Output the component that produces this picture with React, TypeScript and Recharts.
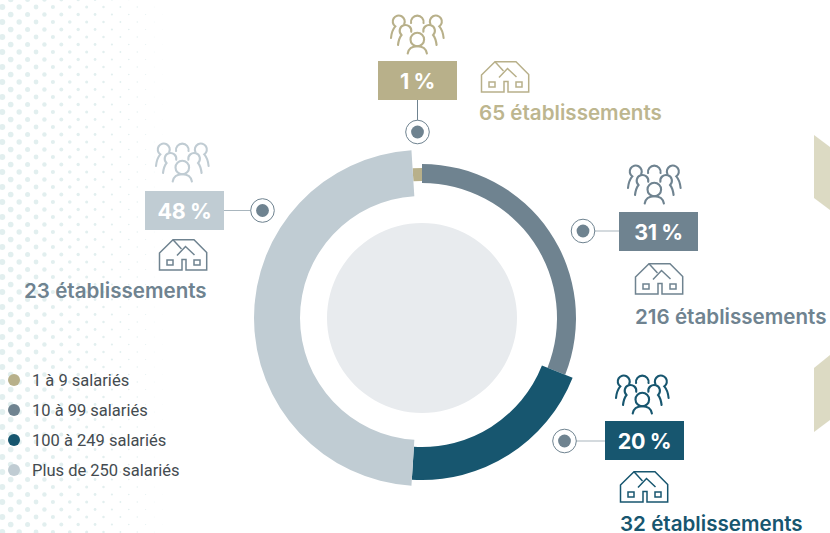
import { PieChart, Pie, Cell, Legend } from "recharts";

const CATEGORIES = ["1 à 9 salariés", "10 à 99 salariés", "100 à 249 salariés", "Plus de 250 salariés"];
const SHARES = [1, 31, 20, 48];
const ESTABLISHMENTS = [65, 216, 32, 23];
const COLORS = ["#b8b08a", "#6f8390", "#17566f", "#c0ccd3"];
const TEXT_COLORS = ["#bdb68f", "#6f8390", "#17566f", "#6f8390"];
const PEOPLE_COLORS = ["#b8b08a", "#6f8390", "#17566f", "#c0ccd3"];
const HOUSE_COLORS = ["#b8b08a", "#6f8390", "#17566f", "#6f8390"];
const INNER_RADII = [137, 135, 129, 122];
const OUTER_RADII = [150, 154, 162, 168];

const CX = 422;
const CY = 318;
const START_ANGLE = 93.6;

// where each callout sits around the ring
const CALLOUTS = [
  { box: [378, 61], dot: [417.5, 132], people: [390, 15], house: [481, 61], text: [479, 120] },
  { box: [619, 212], dot: [583, 231], people: [627, 165], house: [635, 263], text: [635, 324] },
  { box: [605, 421], dot: [564.5, 441], people: [615, 375], house: [620, 471], text: [620, 531] },
  { box: [145, 191], dot: [262.5, 210.5], people: [155, 143], house: [159, 239], text: [24, 298] },
];

const BOX_W = 79;
const BOX_H = 39;
const LABEL_FONT = "Inter, 'Noto Sans', sans-serif";

function HalftoneDots() {
  const dots = [];
  for (let row = 0; row < 72; row++) {
    const y = -0.5 + row * 7.5;
    const offset = row % 2 === 0 ? 10.7 : 2.3;
    for (let x = offset; x < 175; x += 16.87) {
      const r = 3 - x * 0.017;
      if (r > 0.1) dots.push(<circle key={`${row}-${x}`} cx={x} cy={y} r={r} />);
    }
  }
  return <g fill="#e2efef">{dots}</g>;
}

function PeopleIcon({ x, y, color }: { x: number; y: number; color: string }) {
  return (
    <g transform={`translate(${x} ${y})`} fill="none" stroke={color} strokeWidth={2.1} strokeLinecap="round">
      <path d="M1 23C1.5 18 3 14 5.3 11.4A6 6 0 1 1 14.2 9" />
      <path d="M53.6 23C53.1 18 51.6 14 49.3 11.4A6 6 0 1 0 40.4 9" />
      <path d="M21.1 8A6.3 6.3 0 1 1 33.5 8" />
      <path d="M8 30C8.5 26 9.5 22.5 11.5 20A5.8 5.8 0 1 1 21.2 16.8" />
      <path d="M46.6 30C46.1 26 45.1 22.5 43.1 20A5.8 5.8 0 1 0 33.4 16.8" />
      <circle cx={27.3} cy={24.5} r={6.8} />
      <path d="M17.7 38.5C18.5 34 22 31.3 27.3 31.3C32.6 31.3 36.1 34 36.9 38.5" />
    </g>
  );
}

function HouseIcon({ x, y, color }: { x: number; y: number; color: string }) {
  return (
    <g transform={`translate(${x} ${y})`} fill="none" stroke={color} strokeWidth={1.5}>
      <path d="M0.5 14L14 0.7H35L47.7 13.5V31H27V20.5H23V31H0.5Z" />
      <path d="M14 0.7L22.5 10" />
      <path d="M18 16.5L26.5 7.5L35.5 16" />
      <rect x={8} y={21} width={6} height={5} />
      <rect x={35} y={21} width={6} height={5} />
    </g>
  );
}

function Callout({ index }: { index: number }) {
  const { box, dot, people, house, text } = CALLOUTS[index];
  const vertical = index === 0;
  const boxSide = dot[0] < box[0] ? box[0] : box[0] + BOX_W;
  return (
    <g>
      {vertical ? (
        <line x1={dot[0]} y1={box[1] + BOX_H} x2={dot[0]} y2={dot[1]} stroke="#6f8390" strokeWidth={1} />
      ) : (
        <line x1={dot[0]} y1={dot[1]} x2={boxSide} y2={dot[1]} stroke="#a9b6be" strokeWidth={1.2} />
      )}
      <circle cx={dot[0]} cy={dot[1]} r={11.8} fill="#fff" stroke="#6f8390" strokeWidth={1} />
      <circle cx={dot[0]} cy={dot[1]} r={6.4} fill="#6f8390" />
      <rect x={box[0]} y={box[1]} width={BOX_W} height={BOX_H} fill={COLORS[index]} />
      <text
        x={box[0] + BOX_W / 2}
        y={box[1] + 28}
        textAnchor="middle"
        fill="#fff"
        fontFamily={LABEL_FONT}
        fontWeight={700}
        fontSize={21.5}
        letterSpacing={-0.4}
      >
        {SHARES[index]} %
      </text>
      <PeopleIcon x={people[0]} y={people[1]} color={PEOPLE_COLORS[index]} />
      <HouseIcon x={house[0]} y={house[1]} color={HOUSE_COLORS[index]} />
      <text x={text[0]} y={text[1]} fill={TEXT_COLORS[index]} fontFamily={LABEL_FONT} fontWeight={600} fontSize={20.6}>
        {ESTABLISHMENTS[index]} établissements
      </text>
    </g>
  );
}

function LegendList() {
  return (
    <div style={{ fontFamily: "Roboto, sans-serif", fontSize: 16.5, color: "#444b50" }}>
      {CATEGORIES.map((name, i) => (
        <div key={name} style={{ display: "flex", alignItems: "center", height: 30 }}>
          <span
            style={{ width: 12, height: 12, borderRadius: "50%", background: COLORS[i], marginRight: 12, flex: "none" }}
          />
          {name}
        </div>
      ))}
    </div>
  );
}

export default function App() {
  const data = CATEGORIES.map((name, i) => ({ name, value: SHARES[i] }));

  return (
    <div style={{ position: "absolute", left: 0, top: 0, width: 830, height: 533, background: "#fff", overflow: "hidden" }}>
      <PieChart width={830} height={533} margin={{ top: 0, right: 0, bottom: 0, left: 0 }}>
        <HalftoneDots />
        <polygon points="814,135 830,147 830,210 814,198" fill="#dcdac3" />
        <polygon points="814,368 830,355 830,420 814,432" fill="#dcdac3" />
        <Pie
          data={[{ name: "centre", value: 1 }]}
          dataKey="value"
          cx={CX}
          cy={CY}
          outerRadius={95}
          fill="#e8ebee"
          stroke="none"
          isAnimationActive={false}
        />
        {COLORS.map((color, active) => (
          <Pie
            key={color}
            data={data}
            dataKey="value"
            nameKey="name"
            cx={CX}
            cy={CY}
            innerRadius={INNER_RADII[active]}
            outerRadius={OUTER_RADII[active]}
            startAngle={START_ANGLE}
            endAngle={START_ANGLE - 360}
            stroke="none"
            isAnimationActive={false}
          >
            {data.map((entry, i) => (
              <Cell key={entry.name} fill={i === active ? color : "transparent"} />
            ))}
          </Pie>
        ))}
        <Callout index={0} />
        <Callout index={1} />
        <Callout index={2} />
        <Callout index={3} />
        {/* centred + middle so the legend does not push the pies over */}
        <Legend
          layout="vertical"
          align="center"
          verticalAlign="middle"
          wrapperStyle={{ left: 8, top: 365, width: 190 }}
          content={<LegendList />}
        />
      </PieChart>
    </div>
  );
}
